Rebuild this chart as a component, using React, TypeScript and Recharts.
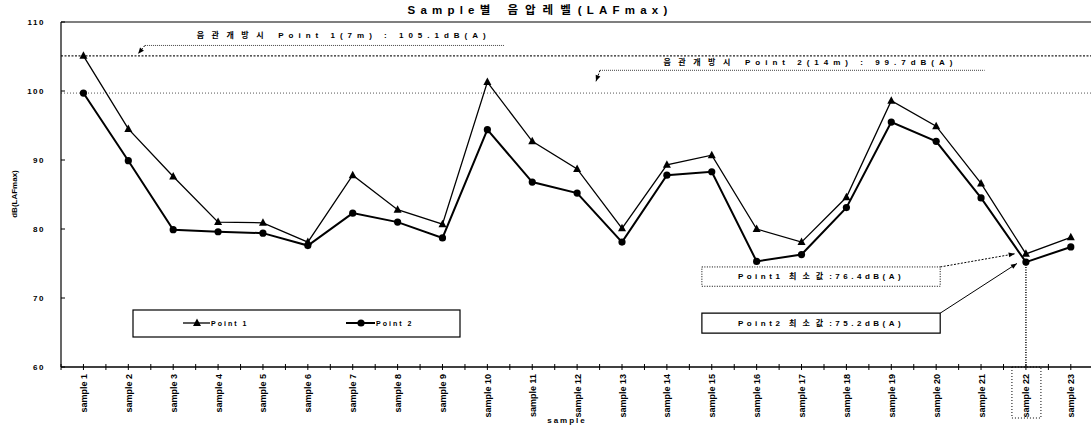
import React from "react";
import { LineChart, Line, XAxis, YAxis, ReferenceLine, ReferenceArea } from "recharts";

const samples = [1, 2, 3, 4, 5, 6, 7, 8, 9, 10, 11, 12, 13, 14, 15, 16, 17, 18, 19, 20, 21, 22, 23];
const point1 = [105.1, 94.5, 87.6, 81.0, 80.9, 78.1, 87.8, 82.8, 80.7, 101.3, 92.7, 88.7, 80.1, 89.3, 90.7, 80.0, 78.1, 84.6, 98.6, 94.9, 86.6, 76.4, 78.8];
const point2 = [99.7, 89.9, 79.9, 79.6, 79.4, 77.6, 82.3, 81.0, 78.7, 94.4, 86.8, 85.2, 78.1, 87.8, 88.3, 75.3, 76.3, 83.1, 95.5, 92.7, 84.5, 75.2, 77.4];
const yTicks = [60, 70, 80, 90, 100, 110];

const FONT = "'Liberation Sans', 'Noto Sans CJK KR', Arial, sans-serif";

const data = samples.map((s, i) => ({ idx: s, p1: point1[i], p2: point2[i] }));

const Triangle = (props: any) => {
    const { cx, cy, key } = props;
    if (cx == null || cy == null) return null;
    return <polygon key={key} points={`${cx},${cy - 4.5} ${cx - 4},${cy + 3} ${cx + 4},${cy + 3}`} fill="#000" />;
};

const Dot = (props: any) => {
    const { cx, cy, key } = props;
    if (cx == null || cy == null) return null;
    return <circle key={key} cx={cx} cy={cy} r={3.6} fill="#000" />;
};

const XTick = (props: any) => {
    const { x, y, payload } = props;
    const n = payload.value;
    return (
        <g>
            <line x1={x} x2={x} y1={y - 3} y2={y + 3} stroke="#000" strokeWidth={1} />
            <line x1={x - 22.4} x2={x - 22.4} y1={y - 3} y2={y + 3} stroke="#000" strokeWidth={1} />
            <text
                transform={`translate(${x + 3.5},${y + 7}) rotate(-90)`}
                textAnchor="end"
                fontSize={9}
                fontWeight="bold"
                fontFamily={FONT}
                fill="#000"
            >
                {`sample ${n}`}
            </text>
            {n === 22 && (
                <rect x={x - 14} y={y} width={29} height={51} fill="none" stroke="#000" strokeWidth={1} strokeDasharray="1 2" />
            )}
        </g>
    );
};

const YTick = (props: any) => {
    const { x, y, payload } = props;
    return (
        <g>
            <line x1={x + 16} x2={x + 20} y1={y} y2={y} stroke="#000" />
            <text x={x} y={y + 3} textAnchor="end" fontSize={8} fontWeight="bold" fontFamily={FONT} letterSpacing={1.5} fill="#000">
                {payload.value}
            </text>
        </g>
    );
};

// parts: [text, letterSpacing]
const textLabel = (parts: [string, number][], size: number) => (p: any) => {
    const vb = p.viewBox;
    return (
        <text
            x={vb.x + vb.width / 2}
            y={vb.y + vb.height / 2 + size * 0.35}
            textAnchor="middle"
            fontSize={size}
            fontWeight="bold"
            fontFamily={FONT}
            fill="#000"
        >
            {parts.map(([t, ls], i) => (
                <tspan key={i} letterSpacing={ls}>{t}</tspan>
            ))}
        </text>
    );
};

const arrowLine = (dashed: boolean) => (p: any) => {
    const { x1, y1, x2, y2 } = p;
    const a = Math.atan2(y2 - y1, x2 - x1);
    const hx = x2 - 6 * Math.cos(a);
    const hy = y2 - 6 * Math.sin(a);
    const px = -Math.sin(a) * 2.5;
    const py = Math.cos(a) * 2.5;
    return (
        <g>
            <line x1={x1} y1={y1} x2={x2} y2={y2} stroke="#000" strokeWidth={1} strokeDasharray={dashed ? "2 1.5" : undefined} />
            <polygon points={`${x2},${y2} ${hx + px},${hy + py} ${hx - px},${hy - py}`} fill="#000" />
        </g>
    );
};

export default function App() {
    return (
        <div style={{ position: "absolute", left: 0, top: 0, width: 1091, height: 427, background: "#fff", overflow: "hidden" }}>
            <LineChart width={1091} height={427} data={data} margin={{ top: 22, right: 0, bottom: 0, left: 0 }}>
                <XAxis
                    type="number"
                    dataKey="idx"
                    domain={[0.5, 23.45]}
                    ticks={samples}
                    allowDataOverflow
                    height={60}
                    tickSize={0}
                    tickMargin={0}
                    tickLine={false}
                    axisLine={{ stroke: "#000", strokeWidth: 1.5 }}
                    tick={<XTick />}
                    interval={0}
                />
                <YAxis
                    type="number"
                    domain={[60, 110]}
                    ticks={yTicks}
                    width={61}
                    tickSize={0}
                    tickMargin={16}
                    tickLine={false}
                    axisLine={{ stroke: "#000", strokeWidth: 1.2 }}
                    tick={<YTick />}
                    interval={0}
                />
                <ReferenceLine y={110} stroke="#000" strokeWidth={1.2} />
                <ReferenceLine y={105.1} stroke="#222" strokeWidth={1.2} strokeDasharray="2 1.5" />
                <ReferenceLine y={99.7} stroke="#555" strokeWidth={1} strokeDasharray="1 2" />

                {/* annotation 1 */}
                <ReferenceArea
                    x1={3.3} x2={10.3} y1={107.3} y2={109.0} fill="none" stroke="none"
                    label={textLabel([["음관개방시", 7.5], [" Point 1(7m) : 105.1dB(A)", 5]], 8)}
                />
                <ReferenceLine segment={[{ x: 2.37, y: 106.6 }, { x: 10.39, y: 106.6 }]} stroke="#444" strokeDasharray="1 1" />
                <ReferenceLine segment={[{ x: 2.37, y: 106.6 }, { x: 2.22, y: 105.4 }]} shape={arrowLine(true)} />

                {/* annotation 2 */}
                <ReferenceArea
                    x1={13.8} x2={20.6} y1={103.4} y2={105.0} fill="none" stroke="none"
                    label={textLabel([["음관개방시", 7.5], [" Point 2(14m) : 99.7dB(A)", 5]], 8)}
                />
                <ReferenceLine segment={[{ x: 12.51, y: 103.0 }, { x: 21.08, y: 103.0 }]} stroke="#444" strokeDasharray="1 1" />
                <ReferenceLine segment={[{ x: 12.51, y: 103.0 }, { x: 12.42, y: 101.4 }]} shape={arrowLine(true)} />

                {/* minimum boxes */}
                <ReferenceArea
                    x1={14.78} x2={20.09} y1={71.7} y2={74.5} fill="#fff" fillOpacity={1} stroke="#000" strokeDasharray="1 1.5"
                    label={textLabel([["Point1 ", 3.5], ["최소값", 6], [":76.4dB(A)", 3.5]], 8)}
                />
                <ReferenceArea
                    x1={14.78} x2={20.09} y1={64.9} y2={67.8} fill="#fff" fillOpacity={1} stroke="#000" strokeWidth={1.2}
                    label={textLabel([["Point2 ", 3.5], ["최소값", 6], [":75.2dB(A)", 3.5]], 8)}
                />
                <ReferenceLine segment={[{ x: 20.09, y: 74.5 }, { x: 21.75, y: 76.4 }]} shape={arrowLine(true)} />
                <ReferenceLine segment={[{ x: 20.09, y: 67.8 }, { x: 21.8, y: 75.0 }]} shape={arrowLine(false)} />
                <ReferenceLine segment={[{ x: 22, y: 75.2 }, { x: 22, y: 60 }]} stroke="#000" strokeWidth={1.5} strokeDasharray="1 1.5" />

                <Line type="linear" dataKey="p1" stroke="#000" strokeWidth={1.3} dot={<Triangle />} activeDot={false} isAnimationActive={false} />
                <Line type="linear" dataKey="p2" stroke="#000" strokeWidth={2} dot={<Dot />} activeDot={false} isAnimationActive={false} />
            </LineChart>

            <svg width={1091} height={427} style={{ position: "absolute", left: 0, top: 0, pointerEvents: "none" }}>
                <text x={540} y={14} textAnchor="middle" fontSize={11.5} fontWeight="bold" fontFamily={FONT} fill="#000">
                    <tspan letterSpacing={5.2}>Sample</tspan>
                    <tspan letterSpacing={7}>별 음압레벨</tspan>
                    <tspan letterSpacing={5.2}>(LAFmax)</tspan>
                </text>
                <text transform="translate(17,194) rotate(-90)" textAnchor="middle" fontSize={8} fontWeight="bold" fontFamily={FONT} fill="#000">
                    dB(LAFmax)
                </text>
                <text x={567} y={423} textAnchor="middle" fontSize={8} fontWeight="bold" fontFamily={FONT} letterSpacing={2} fill="#000">
                    sample
                </text>
                {/* legend */}
                <rect x={133} y={310} width={327} height={27} fill="#fff" stroke="#000" strokeWidth={1.2} />
                <line x1={183} x2={210} y1={323} y2={323} stroke="#000" strokeWidth={1.3} />
                <polygon points="197,318.5 193,326 201,326" fill="#000" />
                <text x={211} y={326} fontSize={7} fontWeight="bold" fontFamily={FONT} letterSpacing={2} fill="#000">Point 1</text>
                <line x1={346} x2={375} y1={323} y2={323} stroke="#000" strokeWidth={2} />
                <circle cx={361} cy={323} r={3.6} fill="#000" />
                <text x={376} y={326} fontSize={7} fontWeight="bold" fontFamily={FONT} letterSpacing={2} fill="#000">Point 2</text>
            </svg>
        </div>
    );
}
